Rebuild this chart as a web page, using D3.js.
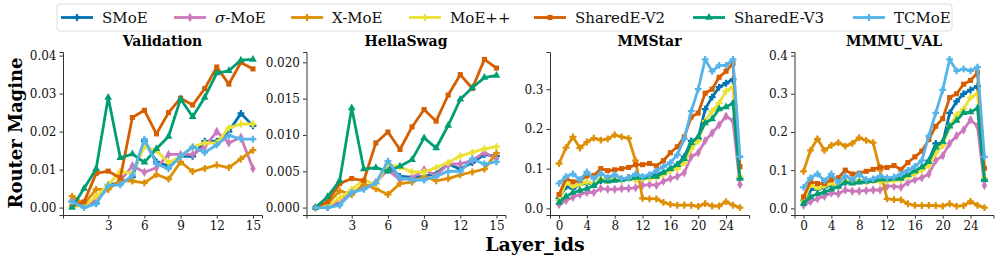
<!DOCTYPE html>
<html>
<head>
<meta charset="utf-8">
<script src="https://cdn.jsdelivr.net/npm/d3@7"></script>
<style>
  body { margin: 0; background: #fff; }
  svg { font-family: "DejaVu Serif", serif; }
</style>
</head>
<body>
<div id="chart"></div>
<script>
// series names + colours (seaborn colorblind)
var methods = ["SMoE", "σ-MoE", "X-MoE", "MoE++", "SharedE-V2", "SharedE-V3", "TCMoE"];
var colors = ["#0173b2", "#cc78bc", "#de8f05", "#ece133", "#d55e00", "#029e73", "#56b4e9"];
var titles = ["Validation", "HellaSwag", "MMStar", "MMMU_VAL"];

// layer ids
var layersText = d3.range(0, 16);
var layersMM = d3.range(0, 27);

// tick labels
var xTicksText = [3, 6, 9, 12, 15];
var xTicksMM = [0, 4, 8, 12, 16, 20, 24];
var yTicksVal = [0, 0.01, 0.02, 0.03, 0.04];
var yTicksHella = [0, 0.005, 0.010, 0.015, 0.020];
var yTicksStar = [0, 0.1, 0.2, 0.3];
var yTicksMMMU = [0, 0.1, 0.2, 0.3, 0.4];

// Validation
var valSMoE   = [0.0015, 0.0012, 0.0012, 0.006, 0.0065, 0.008, 0.0175, 0.012, 0.011, 0.0135, 0.0135, 0.0175, 0.0175, 0.0200, 0.0248, 0.0215];
var valSigma  = [0.002, 0.0005, 0.002, 0.005, 0.007, 0.011, 0.0093, 0.0105, 0.014, 0.014, 0.014, 0.016, 0.020, 0.017, 0.0185, 0.0103];
var valXMoE   = [0.003, 0.001, 0.0048, 0.0048, 0.0072, 0.007, 0.0065, 0.0087, 0.0075, 0.012, 0.0095, 0.0103, 0.0112, 0.0105, 0.0128, 0.0151];
var valMoEpp  = [0.0005, 0.0003, 0.003, 0.006, 0.0095, 0.009, 0.016, 0.015, 0.0118, 0.0135, 0.016, 0.017, 0.017, 0.021, 0.022, 0.022];
var valV2     = [0.0003, 0.0015, 0.009, 0.0096, 0.0078, 0.0237, 0.0256, 0.0194, 0.025, 0.0288, 0.027, 0.0313, 0.037, 0.0325, 0.0382, 0.0365];
var valV3     = [0.0, 0.005, 0.0102, 0.029, 0.0131, 0.0141, 0.0119, 0.0155, 0.0187, 0.0286, 0.0239, 0.029, 0.0354, 0.036, 0.0388, 0.039];
var valTC     = [0.0015, 0.0, 0.001, 0.0058, 0.006, 0.0085, 0.018, 0.0115, 0.0102, 0.0135, 0.016, 0.0145, 0.0165, 0.019, 0.018, 0.018];

// HellaSwag
var hsSMoE  = [0, 0, 0.0005, 0.002, 0.0027, 0.0033, 0.0058, 0.0043, 0.0042, 0.0043, 0.0047, 0.006, 0.0053, 0.0062, 0.0073, 0.0071];
var hsSigma = [0, 0.0002, 0.0009, 0.002, 0.0028, 0.0035, 0.0052, 0.0038, 0.0041, 0.0052, 0.0044, 0.006, 0.006, 0.0065, 0.0076, 0.0067];
var hsXMoE  = [0, 0.0005, 0.0023, 0.0018, 0.0032, 0.0026, 0.0018, 0.0033, 0.0035, 0.0043, 0.0037, 0.004, 0.0045, 0.0049, 0.0053, 0.0075];
var hsMoEpp = [0, 0.0002, 0.0013, 0.0025, 0.0038, 0.0032, 0.006, 0.0056, 0.0049, 0.0049, 0.0055, 0.0062, 0.0071, 0.0076, 0.0081, 0.0084];
var hsV2    = [0, 0.0008, 0.0033, 0.004, 0.0037, 0.0089, 0.0104, 0.008, 0.0111, 0.0135, 0.0119, 0.0155, 0.0183, 0.0164, 0.0204, 0.0192];
var hsV3    = [0, 0.0015, 0.0037, 0.0137, 0.0053, 0.0055, 0.005, 0.0057, 0.0066, 0.0096, 0.0082, 0.0113, 0.0149, 0.0165, 0.0179, 0.0182];
var hsTC    = [0, 0, 0.0003, 0.0021, 0.0025, 0.0034, 0.0064, 0.0041, 0.0038, 0.0038, 0.0043, 0.005, 0.005, 0.0067, 0.006, 0.0063];

// MMStar
var msSMoE  = [0.025, 0.055, 0.05, 0.06, 0.065, 0.06, 0.07, 0.073, 0.075, 0.072, 0.077, 0.075, 0.075, 0.08, 0.085, 0.09, 0.1, 0.11, 0.13, 0.17, 0.175, 0.25, 0.28, 0.305, 0.315, 0.325, 0.075];
var msSigma = [0.01, 0.02, 0.028, 0.035, 0.04, 0.04, 0.05, 0.048, 0.048, 0.05, 0.05, 0.052, 0.058, 0.06, 0.058, 0.068, 0.075, 0.08, 0.09, 0.13, 0.14, 0.17, 0.19, 0.21, 0.232, 0.22, 0.06];
var msXMoE  = [0.113, 0.153, 0.18, 0.152, 0.167, 0.177, 0.172, 0.175, 0.185, 0.18, 0.176, 0.12, 0.025, 0.024, 0.024, 0.015, 0.01, 0.008, 0.008, 0.008, 0.005, 0.012, 0.006, 0.006, 0.017, 0.008, 0.002];
var msMoEpp = [0.02, 0.065, 0.055, 0.06, 0.067, 0.062, 0.075, 0.07, 0.075, 0.072, 0.075, 0.072, 0.075, 0.075, 0.078, 0.085, 0.095, 0.1, 0.115, 0.15, 0.17, 0.22, 0.245, 0.265, 0.295, 0.305, 0.08];
var msV2    = [0.035, 0.075, 0.067, 0.07, 0.082, 0.083, 0.1, 0.095, 0.097, 0.1, 0.103, 0.11, 0.11, 0.113, 0.107, 0.12, 0.14, 0.155, 0.18, 0.23, 0.24, 0.29, 0.3, 0.33, 0.345, 0.365, 0.105];
var msV3    = [0.015, 0.03, 0.04, 0.045, 0.05, 0.057, 0.07, 0.068, 0.07, 0.072, 0.075, 0.078, 0.078, 0.08, 0.08, 0.09, 0.1, 0.11, 0.125, 0.165, 0.18, 0.215, 0.225, 0.25, 0.255, 0.265, 0.075];
var msTC    = [0.063, 0.08, 0.087, 0.072, 0.092, 0.075, 0.088, 0.078, 0.085, 0.075, 0.077, 0.087, 0.08, 0.085, 0.095, 0.105, 0.115, 0.135, 0.175, 0.245, 0.3, 0.375, 0.345, 0.36, 0.36, 0.375, 0.13];

// MMMU_VAL
var mmSMoE  = [0.02, 0.05, 0.05, 0.055, 0.062, 0.058, 0.068, 0.07, 0.072, 0.07, 0.075, 0.072, 0.075, 0.078, 0.08, 0.088, 0.098, 0.105, 0.125, 0.17, 0.17, 0.25, 0.28, 0.3, 0.31, 0.32, 0.075];
var mmSigma = [0.008, 0.018, 0.025, 0.032, 0.04, 0.038, 0.048, 0.045, 0.045, 0.047, 0.048, 0.048, 0.058, 0.058, 0.055, 0.068, 0.075, 0.08, 0.09, 0.125, 0.138, 0.17, 0.19, 0.205, 0.232, 0.215, 0.06];
var mmXMoE  = [0.097, 0.152, 0.182, 0.152, 0.165, 0.172, 0.163, 0.17, 0.185, 0.178, 0.172, 0.1, 0.025, 0.023, 0.022, 0.012, 0.008, 0.007, 0.008, 0.007, 0.006, 0.012, 0.006, 0.007, 0.018, 0.008, 0.002];
var mmMoEpp = [0.018, 0.062, 0.052, 0.058, 0.065, 0.06, 0.072, 0.068, 0.072, 0.07, 0.073, 0.07, 0.072, 0.072, 0.075, 0.082, 0.09, 0.1, 0.112, 0.145, 0.165, 0.215, 0.245, 0.26, 0.29, 0.3, 0.08];
var mmV2    = [0.03, 0.07, 0.065, 0.065, 0.075, 0.08, 0.1, 0.09, 0.092, 0.097, 0.102, 0.108, 0.107, 0.112, 0.102, 0.12, 0.135, 0.15, 0.18, 0.215, 0.235, 0.29, 0.3, 0.325, 0.335, 0.355, 0.105];
var mmV3    = [0.013, 0.03, 0.038, 0.042, 0.05, 0.057, 0.068, 0.066, 0.068, 0.07, 0.072, 0.076, 0.076, 0.078, 0.078, 0.088, 0.098, 0.108, 0.122, 0.16, 0.175, 0.215, 0.23, 0.25, 0.252, 0.262, 0.075];
var mmTC    = [0.055, 0.08, 0.09, 0.072, 0.09, 0.068, 0.085, 0.075, 0.09, 0.075, 0.077, 0.085, 0.08, 0.082, 0.09, 0.1, 0.11, 0.125, 0.19, 0.25, 0.31, 0.39, 0.36, 0.365, 0.36, 0.37, 0.135];

var panels = [
  { title: titles[0], xs: layersText, xt: xTicksText, yt: yTicksVal, fmt: ".2f",
    series: [valSMoE, valSigma, valXMoE, valMoEpp, valV2, valV3, valTC] },
  { title: titles[1], xs: layersText, xt: xTicksText, yt: yTicksHella, fmt: ".3f",
    series: [hsSMoE, hsSigma, hsXMoE, hsMoEpp, hsV2, hsV3, hsTC] },
  { title: titles[2], xs: layersMM, xt: xTicksMM, yt: yTicksStar, fmt: ".1f",
    series: [msSMoE, msSigma, msXMoE, msMoEpp, msV2, msV3, msTC] },
  { title: titles[3], xs: layersMM, xt: xTicksMM, yt: yTicksMMMU, fmt: ".1f",
    series: [mmSMoE, mmSigma, mmXMoE, mmMoEpp, mmV2, mmV3, mmTC] }
];

// marker per method
var symbols = [d3.symbolCross, d3.symbolDiamond, d3.symbolCross, d3.symbolCross, d3.symbolSquare, d3.symbolTriangle, d3.symbolCross];

var W = 997, H = 259;
var svg = d3.select("#chart").append("svg").attr("width", W).attr("height", H);

var axLeft = [63, 306.5, 550, 794.5];
var axW = 199, axTop = 52, axBottom = 215;

// pad a domain 5% like matplotlib
function padded(lo, hi) {
  var p = (hi - lo) * 0.05;
  return [lo - p, hi + p];
}

panels.forEach(function(p, k) {
  var g = svg.append("g").attr("transform", "translate(" + axLeft[k] + "," + axTop + ")");
  var h = axBottom - axTop;

  var x = d3.scaleLinear().domain(padded(d3.min(p.xs), d3.max(p.xs))).range([0, axW]);
  var all = [].concat.apply([], p.series);
  var y = d3.scaleLinear().domain(padded(d3.min(all), d3.max(all))).range([h, 0]);

  var xAxis = g.append("g").attr("transform", "translate(0," + h + ")")
    .call(d3.axisBottom(x).tickValues(p.xt).tickSize(3.5).tickPadding(3).tickFormat(d3.format("d")));
  var yAxis = g.append("g")
    .call(d3.axisLeft(y).tickValues(p.yt).tickSize(3.5).tickPadding(3).tickFormat(d3.format(p.fmt)));

  [xAxis, yAxis].forEach(function(a) {
    a.select(".domain").attr("stroke", "#333").attr("stroke-width", 1);
    a.selectAll(".tick line").attr("stroke", "#333");
    a.selectAll("text").attr("font-family", "DejaVu Serif").attr("font-size", 12).attr("fill", "#111");
  });

  var line = d3.line().x(function(d, i) { return x(p.xs[i]); }).y(function(d) { return y(d); });

  p.series.forEach(function(s, j) {
    g.append("path").datum(s)
      .attr("fill", "none")
      .attr("stroke", colors[j])
      .attr("stroke-width", 2.8)
      .attr("stroke-linejoin", "round")
      .attr("d", line);
    g.selectAll(".m" + j).data(s).enter().append("path")
      .attr("transform", function(d, i) { return "translate(" + x(p.xs[i]) + "," + y(d) + ")"; })
      .attr("d", d3.symbol().type(symbols[j]).size(26))
      .attr("fill", colors[j]);
  });

  g.append("text")
    .attr("x", axW / 2).attr("y", -6)
    .attr("text-anchor", "middle")
    .attr("font-weight", "bold").attr("font-size", 14)
    .text(p.title);
});

// axis labels
svg.append("text")
  .attr("transform", "translate(22," + 133 + ") rotate(-90)")
  .attr("text-anchor", "middle")
  .attr("font-weight", "bold").attr("font-size", 18)
  .text("Router Magine");

svg.append("text")
  .attr("x", 535).attr("y", 251)
  .attr("text-anchor", "middle")
  .attr("font-weight", "bold").attr("font-size", 19)
  .text("Layer_ids");

// legend
var leg = svg.append("g");
leg.append("rect")
  .attr("x", 57).attr("y", 4).attr("width", 895).attr("height", 27)
  .attr("rx", 3).attr("fill", "#fff").attr("stroke", "#dcdcdc");

var legX = [61, 174, 291, 409, 534, 693, 853];
methods.forEach(function(m, j) {
  var e = leg.append("g").attr("transform", "translate(" + legX[j] + ",17.5)");
  e.append("line").attr("x1", 0).attr("x2", 32).attr("stroke", colors[j]).attr("stroke-width", 2.8);
  e.append("path").attr("transform", "translate(16,0)")
    .attr("d", d3.symbol().type(symbols[j]).size(26)).attr("fill", colors[j]);
  var t = e.append("text").attr("x", 41).attr("y", 5).attr("font-size", 15).attr("fill", "#111");
  if (m.charAt(0) === "σ") {
    t.append("tspan").attr("font-style", "italic").text("σ");
    t.append("tspan").text(m.slice(1));
  } else {
    t.text(m);
  }
});
</script>
</body>
</html>
